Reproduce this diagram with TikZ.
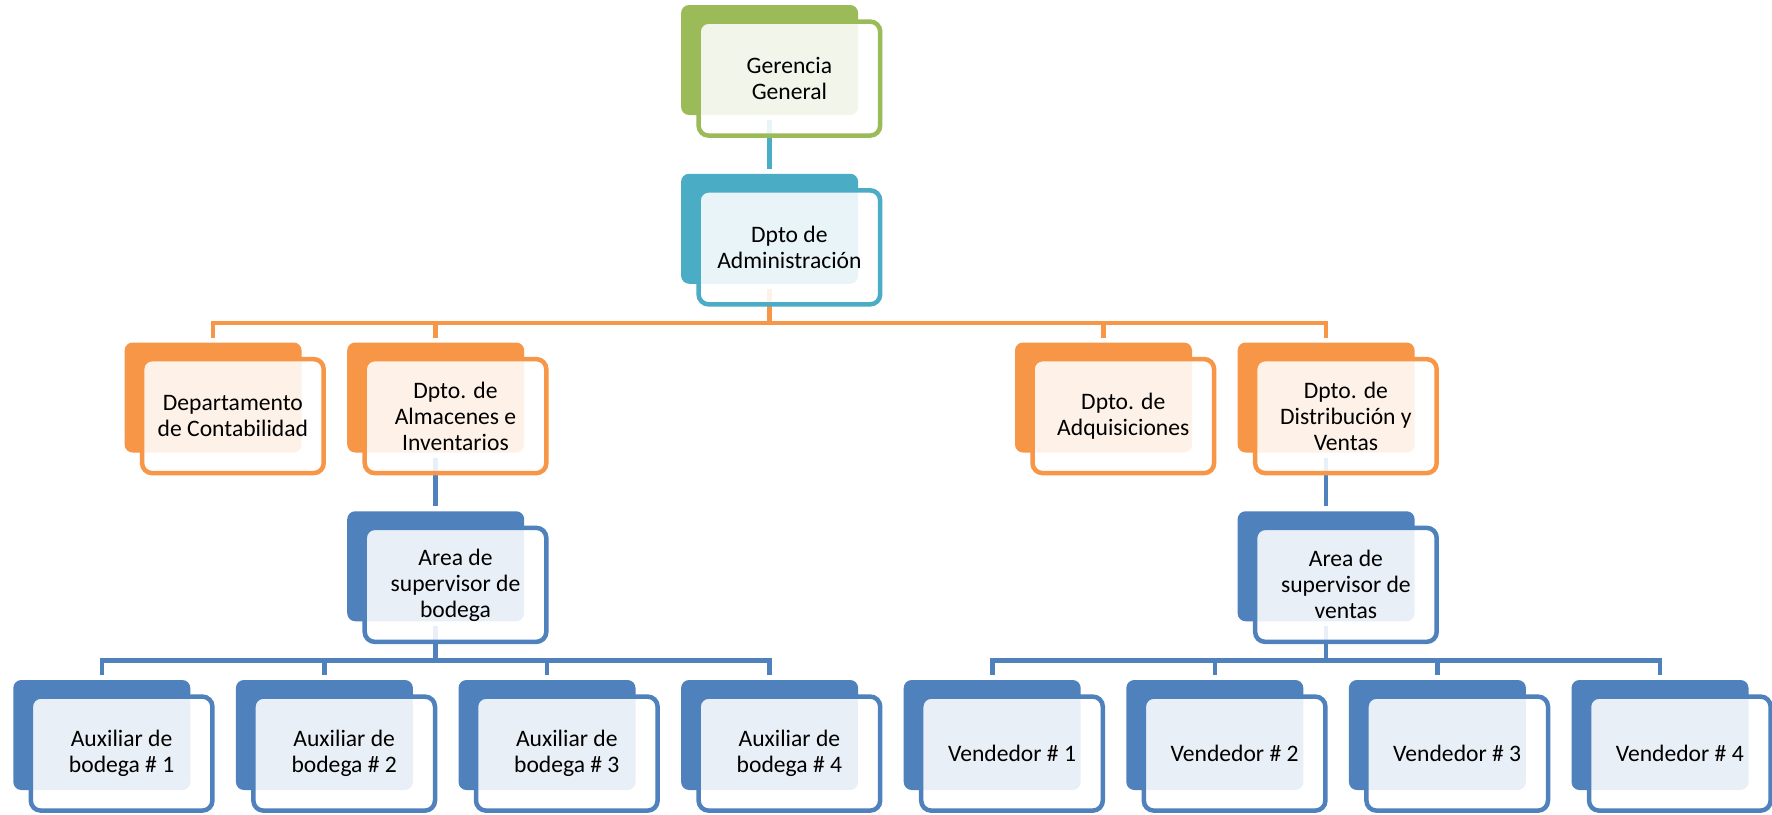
\documentclass[tikz,border=0pt]{standalone}
\usepackage{fontspec}
\setmainfont{Carlito}
\usetikzlibrary{calc}
\definecolor{cgreen}{HTML}{9BBB59}
\definecolor{cteal}{HTML}{4BACC6}
\definecolor{corange}{HTML}{F79646}
\definecolor{cblue}{HTML}{4F81BD}
\pgfdeclarelayer{paper}
\pgfdeclarelayer{bg}
\pgfsetlayers{paper,bg,main}
\tikzset{
  backbox/.style={rectangle, rounded corners=8pt, fill=#1, minimum width=177pt, minimum height=110pt, inner sep=0pt, outer sep=0pt},
  frontbox/.style={rectangle, rounded corners=10pt, draw=#1, line width=4.5pt, fill=white, fill opacity=0.88, draw opacity=1, text opacity=1, minimum width=181.6pt, minimum height=114pt, align=center, inner sep=0pt, text=black, font=\fontsize{23.6pt}{26pt}\selectfont},
  conn/.style={draw=#1, line width=4.6pt},
}
\newcommand\orgunit[5]{%
  \node[backbox=#4] (#1B) at (#2,#3) {};
  \node[frontbox=#4] (#1) at ($(#1B.center)+(19.8,-18.6)$) {#5};
}
\begin{document}
\begin{tikzpicture}[x=1pt,y=1pt]
\begin{pgfonlayer}{paper}
\fill[white] (0,0) rectangle (1772,-814);
\end{pgfonlayer}
\useasboundingbox (0,0) rectangle (1772,-814);
% row 0
\orgunit{g}{769.6}{-60}{cgreen}{Gerencia\\General}
% row 1
\orgunit{a}{769.6}{-228.75}{cteal}{Dpto de\\Administración}
% row 2
\orgunit{con}{213.1}{-397.5}{corange}{Departamento\\de Contabilidad}
\orgunit{al}{435.7}{-397.5}{corange}{Dpto. de\\Almacenes e\\Inventarios}
\orgunit{ad}{1103.5}{-397.5}{corange}{Dpto. de\\Adquisiciones}
\orgunit{di}{1326.1}{-397.5}{corange}{Dpto. de\\Distribución y\\Ventas}
% row 3
\orgunit{bo}{435.7}{-566.25}{cblue}{Area de\\supervisor de\\bodega}
\orgunit{ve}{1326.1}{-566.25}{cblue}{Area de\\supervisor de\\ventas}
% row 4
\orgunit{xa}{101.8}{-735}{cblue}{Auxiliar de\\bodega \# 1}
\orgunit{xb}{324.4}{-735}{cblue}{Auxiliar de\\bodega \# 2}
\orgunit{xc}{547.0}{-735}{cblue}{Auxiliar de\\bodega \# 3}
\orgunit{xd}{769.6}{-735}{cblue}{Auxiliar de\\bodega \# 4}
\orgunit{va}{992.2}{-735}{cblue}{Vendedor \# 1}
\orgunit{vb}{1214.8}{-735}{cblue}{Vendedor \# 2}
\orgunit{vc}{1437.4}{-735}{cblue}{Vendedor \# 3}
\orgunit{vd}{1660.0}{-735}{cblue}{Vendedor \# 4}
% connectors
\begin{pgfonlayer}{bg}
\draw[conn=cteal] ([yshift=-5pt]gB.south) -- ([yshift=5pt]aB.north);
\foreach \c in {conB,alB,adB,diB}
  \draw[conn=corange] ([yshift=-5pt]aB.south) |- ([yshift=19.5pt]\c.north) -- ([yshift=5pt]\c.north);
\draw[conn=cblue] ([yshift=-5pt]alB.south) -- ([yshift=5pt]boB.north);
\draw[conn=cblue] ([yshift=-5pt]diB.south) -- ([yshift=5pt]veB.north);
\foreach \c in {xaB,xbB,xcB,xdB}
  \draw[conn=cblue] ([yshift=-5pt]boB.south) |- ([yshift=19.5pt]\c.north) -- ([yshift=5pt]\c.north);
\foreach \c in {vaB,vbB,vcB,vdB}
  \draw[conn=cblue] ([yshift=-5pt]veB.south) |- ([yshift=19.5pt]\c.north) -- ([yshift=5pt]\c.north);
\end{pgfonlayer}
\end{tikzpicture}
\end{document}
